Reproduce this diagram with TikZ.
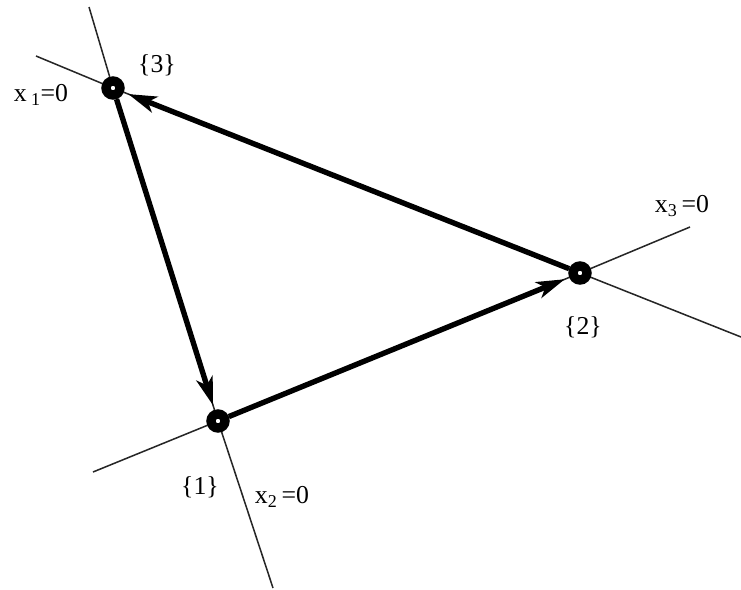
\documentclass[tikz,border=0pt]{standalone}
\usepackage{fontspec}
\setmainfont{Liberation Serif}
\usetikzlibrary{arrows.meta,positioning,calc}

\begin{document}
\begin{tikzpicture}[x=0.03cm, y=-0.03cm, font=\fontsize{22}{26}\selectfont,
    vtx/.style={circle, draw=black, line width=8pt, fill=white,
                minimum size=0.42cm, inner sep=0pt},
    axis/.style={draw=black!85, line width=1.3pt},
    flow/.style={line width=4.6pt, -{Stealth[length=0.85cm, width=0.5cm, inset=0.22cm]},
                 shorten >=4pt},
    lbl/.style={inner sep=1pt}]
\useasboundingbox (0,0) rectangle (741,589);
\node[vtx] (v3) at (113,88) {};
\node[vtx] (v2) at (580,273) {};
\node[vtx] (v1) at (218,421) {};
\coordinate (e31a) at (89,7);
\coordinate (e31b) at (273,588);
\coordinate (e32a) at (36,56);
\coordinate (e32b) at (741,337);
\coordinate (e12a) at (93,472);
\coordinate (e12b) at (690,227);
\draw[axis] (e31a) -- (v3) -- (v1) -- (e31b);
\draw[axis] (e32a) -- (v3) -- (v2) -- (e32b);
\draw[axis] (e12a) -- (v1) -- (v2) -- (e12b);
\draw[flow] (v3) -- (v1);
\draw[flow] (v1) -- (v2);
\draw[flow] (v2) -- (v3);
\node[lbl] (n3) at (157,65) {\{3\}};
\node[lbl] (n2) at (583,327) {\{2\}};
\node[lbl] (n1) at (200,487) {\{1\}};
\node[lbl] (x1) at (41,95) {x\,\textsubscript{1}=0};
\node[lbl] (x3) at (682,206) {x\textsubscript{3}\,=0};
\node[lbl] (x2) at (282,497) {x\textsubscript{2}\,=0};
\end{tikzpicture}
\end{document}
